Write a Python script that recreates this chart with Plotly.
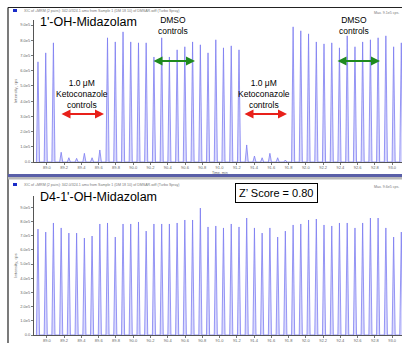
import plotly.graph_objects as go

W, H = 402, 343

# ---- data ----
peak_time_min = [88.896, 88.986, 89.075, 89.165, 89.254, 89.344, 89.434, 89.523, 89.613, 89.702,
                 89.792, 89.882, 89.971, 90.061, 90.150, 90.240, 90.330, 90.419, 90.509, 90.598,
                 90.688, 90.778, 90.867, 90.957, 91.046, 91.136, 91.226, 91.315, 91.405, 91.494,
                 91.584, 91.674, 91.763, 91.853, 91.942, 92.032, 92.122, 92.211, 92.301, 92.390,
                 92.480, 92.570, 92.659, 92.749, 92.838, 92.928, 93.018, 93.107]

oh_midazolam_cps = [6.58e5, 7.17e5, 7.83e5,
                    0.64e5, 0.28e5, 0.24e5, 0.57e5, 0.28e5, 0.79e5,
                    8.16e5, 7.89e5, 8.55e5, 7.89e5, 7.83e5, 7.83e5, 6.90e5, 8.16e5, 6.90e5,
                    7.37e5, 7.57e5, 7.89e5, 7.70e5, 7.17e5, 8.03e5, 7.50e5, 7.63e5, 7.37e5,
                    1.12e5, 0.39e5, 0.28e5, 0.57e5, 0.28e5, 0.13e5,
                    8.88e5, 8.62e5, 8.42e5, 7.89e5, 7.76e5, 7.83e5, 7.50e5, 8.29e5, 7.57e5,
                    7.89e5, 8.03e5, 8.16e5, 8.29e5, 7.57e5, 7.83e5]

d4_oh_midazolam_cps = [7.46e5, 7.25e5, 7.89e5, 7.54e5, 7.18e5, 7.18e5, 6.83e5, 6.97e5, 7.82e5, 7.89e5,
                       6.90e5, 7.82e5, 7.82e5, 7.96e5, 7.32e5, 7.82e5, 7.82e5, 7.82e5, 7.89e5, 8.10e5,
                       8.10e5, 8.94e5, 7.61e5, 7.68e5, 7.54e5, 7.82e5, 7.61e5, 8.24e5, 7.54e5, 7.18e5,
                       7.54e5, 6.90e5, 7.32e5, 7.75e5, 7.82e5, 8.10e5, 8.17e5, 7.75e5, 7.68e5, 7.89e5,
                       7.89e5, 7.54e5, 7.89e5, 8.24e5, 8.24e5, 7.54e5, 6.90e5, 7.25e5]

x_tick_vals = [89.0, 89.2, 89.4, 89.6, 89.8, 90.0, 90.2, 90.4, 90.6, 90.8, 91.0,
               91.2, 91.4, 91.6, 91.8, 92.0, 92.2, 92.4, 92.6, 92.8, 93.0]
x_tick_text = ["89.0", "89.2", "89.4", "89.6", "89.8", "90.0", "90.2", "90.4", "90.6", "90.8", "91.0",
               "91.2", "91.4", "91.6", "91.8", "92.0", "92.2", "92.4", "92.6", "92.8", "93.0"]
y_tick_vals = [0, 1e5, 2e5, 3e5, 4e5, 5e5, 6e5, 7e5, 8e5, 9e5]
y_tick_text = ["0.0", "1.0e5", "2.0e5", "3.0e5", "4.0e5", "5.0e5", "6.0e5", "7.0e5", "8.0e5", "9.0e5"]

panel_titles = ["1'-OH-Midazolam", "D4-1'-OH-Midazolam"]
z_score_text = "Z’ Score = 0.80"

# ---- style ----
HALF_W = 0.018
LINE_C = "rgba(120,120,240,0.75)"
FILL_C = "rgba(185,185,252,0.55)"


def px(x):
    return x / W


def py(y):
    return 1 - y / H


def trace_xy(times, heights):
    xs, ys = [], []
    for t, h in zip(times, heights):
        xs += [t - HALF_W, t, t + HALF_W]
        ys += [0, h, 0]
    return xs, ys


fig = go.Figure()
for i, series in enumerate([oh_midazolam_cps, d4_oh_midazolam_cps]):
    xs, ys = trace_xy(peak_time_min, series)
    fig.add_trace(go.Scatter(x=xs, y=ys, mode="lines", line=dict(color=LINE_C, width=1),
                             fill="tozeroy", fillcolor=FILL_C, hoverinfo="skip",
                             xaxis="x" if i == 0 else "x2", yaxis="y" if i == 0 else "y2",
                             showlegend=False))

x_range = [88.85, 93.115]
tickfont = dict(family="Liberation Sans, Arial", size=4, color="#666")
common_x = dict(range=x_range, tickvals=x_tick_vals, ticktext=x_tick_text, tickfont=tickfont,
                showgrid=False, zeroline=False, showline=True, linecolor="#555", linewidth=1,
                ticks="outside", ticklen=1.5, tickcolor="#777", fixedrange=True, automargin=False)
common_y = dict(tickvals=y_tick_vals, ticktext=y_tick_text, tickfont=tickfont,
                showgrid=False, zeroline=False, showline=True, linecolor="#555", linewidth=1,
                ticks="outside", ticklen=2, tickcolor="#777", fixedrange=True, automargin=False)

fig.update_layout(
    width=W, height=H, margin=dict(l=0, r=0, t=0, b=0, autoexpand=False),
    paper_bgcolor="white", plot_bgcolor="white", showlegend=False,
    xaxis=dict(domain=[px(34), 1.0], anchor="y", **common_x),
    yaxis=dict(domain=[py(162), py(20)], anchor="x", range=[0, 9.33e5],
               title=dict(text="Intensity, cps", font=dict(size=4, color="#666"), standoff=2),
               **common_y),
    xaxis2=dict(domain=[px(34), 1.0], anchor="y2", **common_x),
    yaxis2=dict(domain=[py(335), py(196)], anchor="x2", range=[0, 9.79e5],
                title=dict(text="Intensity, cps", font=dict(size=4, color="#666"), standoff=2),
                **common_y),
)

shapes = []
# top panel frame
shapes.append(dict(type="line", xref="paper", yref="paper", x0=px(8), x1=1, y0=py(7.5), y1=py(7.5),
                   line=dict(color="#222", width=1)))
shapes.append(dict(type="line", xref="paper", yref="paper", x0=px(8), x1=px(8), y0=py(7.5), y1=py(343),
                   line=dict(color="#222", width=1.2)))
shapes.append(dict(type="rect", xref="paper", yref="paper", x0=px(8), x1=1, y0=py(177), y1=py(174),
                   fillcolor="#5a5fa8", line=dict(width=0)))
shapes.append(dict(type="rect", xref="paper", yref="paper", x0=px(8), x1=1, y0=py(179.5), y1=py(177),
                   fillcolor="#b8b8b8", line=dict(width=0)))
# small blue header squares
for yy in (9, 183):
    shapes.append(dict(type="rect", xref="paper", yref="paper", x0=px(13), x1=px(17), y0=py(yy + 3), y1=py(yy),
                       fillcolor="#1a2cc8", line=dict(width=0)))
fig.update_layout(shapes=shapes)

ann = []
font_main = "Liberation Sans, Arial, sans-serif"
hdr = "XIC of +MRM (2 pairs): 342.0/324.1 amu from Sample 1 (DM 18 10) of DMSAR.wiff (Turbo Spray)"
for yy, mx in ((11, "Max. 9.1e5 cps."), (185, "Max. 9.6e5 cps.")):
    ann.append(dict(text=hdr, xref="paper", yref="paper", x=px(22), y=py(yy), xanchor="left",
                    yanchor="middle", showarrow=False, font=dict(family=font_main, size=3.6, color="#777")))
    ann.append(dict(text=mx, xref="paper", yref="paper", x=px(401), y=py(yy + 1.5), xanchor="right",
                    yanchor="middle", showarrow=False, font=dict(family=font_main, size=3.6, color="#777")))
ann.append(dict(text=panel_titles[0], xref="paper", yref="paper", x=px(38), y=py(22), xanchor="left",
                yanchor="middle", showarrow=False, font=dict(family=font_main, size=12.5, color="black")))
ann.append(dict(text=panel_titles[1], xref="paper", yref="paper", x=px(38), y=py(197), xanchor="left",
                yanchor="middle", showarrow=False, font=dict(family=font_main, size=12.5, color="black")))
ann.append(dict(text=z_score_text, xref="paper", yref="paper", x=px(276.5), y=py(193), xanchor="center",
                yanchor="middle", showarrow=False, font=dict(family=font_main, size=11, color="black"),
                bordercolor="black", borderwidth=1, borderpad=3, bgcolor="white"))
for cx in (173, 354):
    ann.append(dict(text="DMSO<br>controls", xref="paper", yref="paper", x=px(cx), y=py(25.5),
                    xanchor="center", yanchor="middle", showarrow=False,
                    font=dict(family=font_main, size=8.5, color="black")))
for cx in (82, 264):
    ann.append(dict(text="1.0 μM<br>Ketoconazole<br>controls", xref="paper", yref="paper", x=px(cx),
                    y=py(94), xanchor="center", yanchor="middle", showarrow=False,
                    font=dict(family=font_main, size=8.5, color="black")))
ann.append(dict(text="Time, min", xref="paper", yref="paper", x=px(210), y=py(172.5), xanchor="left",
                yanchor="middle", showarrow=False, font=dict(family=font_main, size=3.6, color="#666")))
for x0, x1, yy, col in ((152, 195, 61, "#1f8a1f"), (336, 380, 61, "#1f8a1f"),
                        (60, 104, 114, "#e8201a"), (243, 287, 114, "#e8201a")):
    ann.append(dict(text="", xref="paper", yref="paper", x=px(x1), y=py(yy), ax=-(x1 - x0), ay=0,
                    axref="pixel", ayref="pixel", showarrow=True, arrowhead=2, startarrowhead=2,
                    arrowside="end+start", arrowsize=0.9, startarrowsize=0.9, arrowwidth=2,
                    arrowcolor=col))
fig.update_layout(annotations=ann)

fig.write_html("out.html", config={"displayModeBar": False, "staticPlot": True},
               post_script="document.body.style.margin='0';document.body.style.overflow='hidden';")
